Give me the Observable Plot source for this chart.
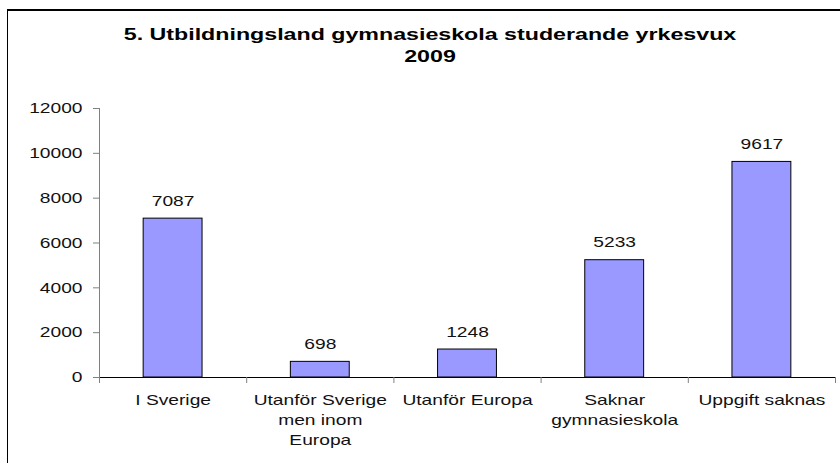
<!DOCTYPE html>
<html>
<head>
<meta charset="utf-8">
<script src="https://cdn.jsdelivr.net/npm/d3@7"></script>
<script src="https://cdn.jsdelivr.net/npm/@observablehq/plot@0.6"></script>
<style>
  html, body { margin: 0; padding: 0; background: #fff; }
  body { font-family: "Liberation Sans", Arial, sans-serif; width: 840px; height: 463px; overflow: hidden; position: relative; }
  #frame { position: absolute; left: 7px; top: 9px; width: 900px; height: 520px; border-left: 1.5px solid #000; border-top: 2px solid #000; pointer-events: none; }
  #title { height: 70px; box-sizing: border-box; width: 860px; padding-top: 24px; text-align: center; font-weight: bold; font-size: 16px; line-height: 22px; color: #000; transform: scaleX(1.45); transform-origin: 430px 0; }
  #chart svg { display: block; }
</style>
</head>
<body>
<div id="frame"></div>
<div id="title">5. Utbildningsland gymnasieskola studerande yrkesvux<br>2009</div>
<div id="chart"></div>
<script>
// ---- data ----
const categories = ["I Sverige", "Utanför Sverige men inom Europa", "Utanför Europa", "Saknar gymnasieskola", "Uppgift saknas"];
const categoryLabels = ["I Sverige", "Utanför Sverige\nmen inom\nEuropa", "Utanför Europa", "Saknar\ngymnasieskola", "Uppgift saknas"];
const values = [7087, 698, 1248, 5233, 9617];
const yTicks = [0, 2000, 4000, 6000, 8000, 10000, 12000];

const data = categories.map((c, i) => ({category: c, label: categoryLabels[i], value: values[i], i}));
const boundaries = d3.range(categories.length + 1);
const centers = categories.map((_, i) => i + 0.5);

const chart = Plot.plot({
  width: 840,
  height: 393,
  marginLeft: 99,
  marginRight: 5,
  marginTop: 38,
  marginBottom: 86,
  style: {fontFamily: "'Liberation Sans', Arial, sans-serif", fontSize: "15px", color: "#000", background: "#fff"},
  x: {type: "linear", domain: [0, categories.length], axis: null},
  y: {domain: [0, 12000], axis: null, label: null},
  marks: [
    Plot.rectY(data, {x1: d => d.i + 0.3, x2: d => d.i + 0.7, y1: 0, y2: "value", fill: "#9999FF", stroke: "#000", strokeWidth: 1}),
    Plot.ruleX([0], {stroke: "#808080", strokeWidth: 1}),
    Plot.ruleY([0], {stroke: "#000", strokeWidth: 1}),
    Plot.axisY({ticks: yTicks, tickSize: 6, tickPadding: 11, tickFormat: d => String(d), stroke: "#808080", fill: "#111", fontSize: 15, label: null}),
    Plot.axisX({ticks: boundaries, tickSize: 6, tickFormat: () => "", stroke: "#808080", label: null}),
    Plot.axisX({ticks: centers, tickSize: 0, tickPadding: 13, tickFormat: d => categoryLabels[Math.floor(d)], lineWidth: Infinity, lineHeight: 1.333, fontSize: 15, fill: "#111", label: null}),
    Plot.text(data, {x: d => d.i + 0.5, y: "value", text: d => String(d.value), dy: -13, lineAnchor: "bottom", fontSize: 15, fill: "#111"})
  ]
});

chart.querySelectorAll("text").forEach(t => {
  const tr = t.getAttribute("transform") || "";
  t.setAttribute("transform", tr + " scale(1.28,1)");
});

document.getElementById("chart").appendChild(chart);
</script>
</body>
</html>
